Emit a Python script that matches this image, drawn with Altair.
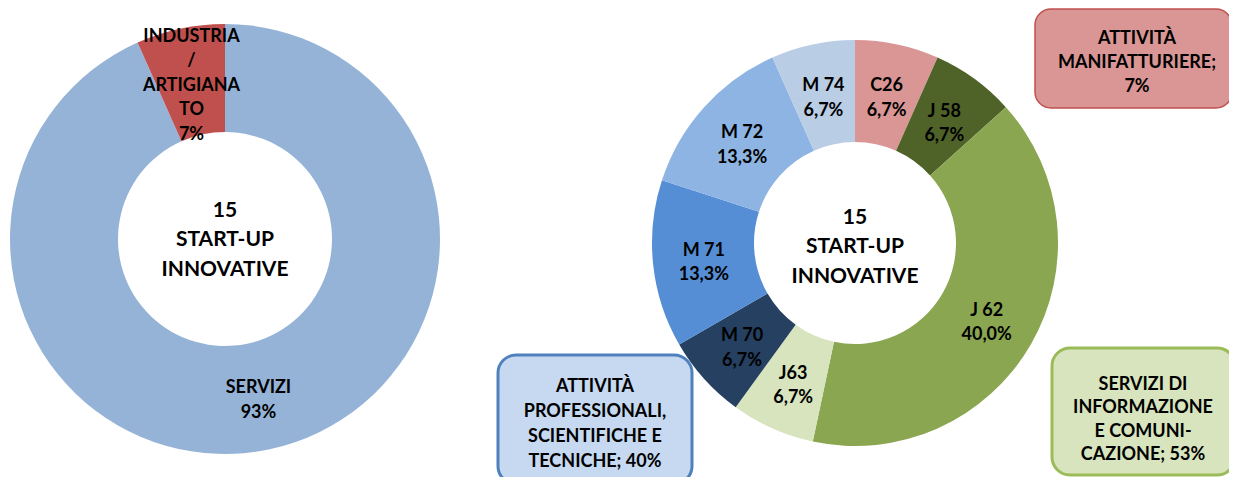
import altair as alt
import pandas as pd

# ---------------- data ----------------
left_cats = ["SERVIZI", "INDUSTRIA / ARTIGIANATO"]
left_counts = [14, 1]
left_labels = ["SERVIZI\n93%", "INDUSTRIA\n/\nARTIGIANA\nTO\n7%"]
left_colors = ["#95B3D7", "#C0504D"]

right_cats = ["C26", "J 58", "J 62", "J63", "M 70", "M 71", "M 72", "M 74"]
right_counts = [1, 1, 6, 1, 1, 2, 2, 1]
right_labels = ["C26\n6,7%", "J 58\n6,7%", "J 62\n40,0%", "J63\n6,7%",
                "M 70\n6,7%", "M 71\n13,3%", "M 72\n13,3%", "M 74\n6,7%"]
right_colors = ["#D99694", "#4F6228", "#8AA650", "#D7E4BD",
                "#254061", "#558ED5", "#8EB4E3", "#B9CDE5"]

center_text = "15\nSTART-UP\nINNOVATIVE"

box_texts = ["ATTIVITÀ\nMANIFATTURIERE;\n7%",
             "ATTIVITÀ\nPROFESSIONALI,\nSCIENTIFICHE E\nTECNICHE; 40%",
             "SERVIZI DI\nINFORMAZIONE\nE COMUNI-\nCAZIONE; 53%"]
box_fills = ["#D99694", "#C6D9F1", "#D7E4BD"]
box_strokes = ["#C0504D", "#4F81BD", "#9BBB59"]

FONT = "Lato"
LABEL_SIZE = 18
LABEL_LH = 24.5
CENTER_SIZE = 21
CENTER_LH = 29.5


def nlines(s):
    return s.count("\n") + 1


left_df = pd.DataFrame({"cat": left_cats, "count": left_counts,
                        "label": left_labels, "color": left_colors,
                        "idx": range(len(left_cats))})
right_df = pd.DataFrame({"cat": right_cats, "count": right_counts,
                         "label": right_labels, "color": right_colors,
                         "idx": range(len(right_cats))})
for d in (left_df, right_df):
    d["nl"] = [nlines(s) for s in d["label"]]


def donut(df, cx, cy, r0, r1, cdy):
    base = alt.Chart(df).encode(
        theta=alt.Theta("count:Q", stack=True),
        order=alt.Order("idx:Q"),
        x=alt.value(cx), y=alt.value(cy),
    )
    out = [base.mark_arc(innerRadius=r0, outerRadius=r1).encode(
        color=alt.Color("color:N", scale=None)
    )]
    # labels: a layer per line count so that each block is vertically centred
    for n in sorted(set(df["nl"])):
        out.append(base.mark_text(
            radius=(r0 + r1) / 2, font=FONT, fontSize=LABEL_SIZE, fontWeight="bold",
            lineBreak="\n", lineHeight=LABEL_LH, align="center", baseline="middle",
            dy=-(n - 1) * LABEL_LH / 2 + 4, color="#000000",
        ).encode(
            text=alt.condition(f"datum.nl == {n}", "label:N", alt.value("")),
            detail="cat:N",
        ))
    n = nlines(center_text)
    out.append(alt.Chart(pd.DataFrame({"t": [center_text]})).mark_text(
        font=FONT, fontSize=CENTER_SIZE, fontWeight="bold", lineBreak="\n",
        lineHeight=CENTER_LH, align="center", baseline="middle", color="#000000",
        dy=-(n - 1) * CENTER_LH / 2 + cdy,
    ).encode(text="t:N", x=alt.value(cx), y=alt.value(cy)))
    return out


def box(i, x0, x1, y0, y1, tx, ty, sw, cr, lh):
    d = pd.DataFrame({"t": [box_texts[i]]})
    n = nlines(box_texts[i])
    rect = alt.Chart(d).mark_rect(
        fill=box_fills[i], stroke=box_strokes[i], strokeWidth=sw, cornerRadius=cr
    ).encode(x=alt.value(x0), x2=alt.value(x1), y=alt.value(y0), y2=alt.value(y1))
    txt = alt.Chart(d).mark_text(
        font=FONT, fontSize=LABEL_SIZE, fontWeight="bold", lineBreak="\n",
        lineHeight=lh, align="center", baseline="middle", color="#000000",
        dy=-(n - 1) * lh / 2,
    ).encode(text="t:N", x=alt.value(tx), y=alt.value(ty))
    return [rect, txt]


layers = []
layers += donut(left_df, 217, 231, 107, 215, 1)
layers += donut(right_df, 847, 235, 101, 203, 4)
layers += box(0, 1027, 1224, 1, 100, 1129, 55, 1.5, 16, 24)
layers += box(1, 490, 684, 347, 476, 587, 416, 3, 18, 25)
layers += box(2, 1044, 1227, 340, 467, 1135, 412, 3, 18, 23.5)

chart = alt.layer(*layers).properties(
    width=1221, height=469, autosize="none", padding=0
).configure_view(stroke=None)

chart.save("out.html", embed_options={"renderer": "svg", "actions": False})
